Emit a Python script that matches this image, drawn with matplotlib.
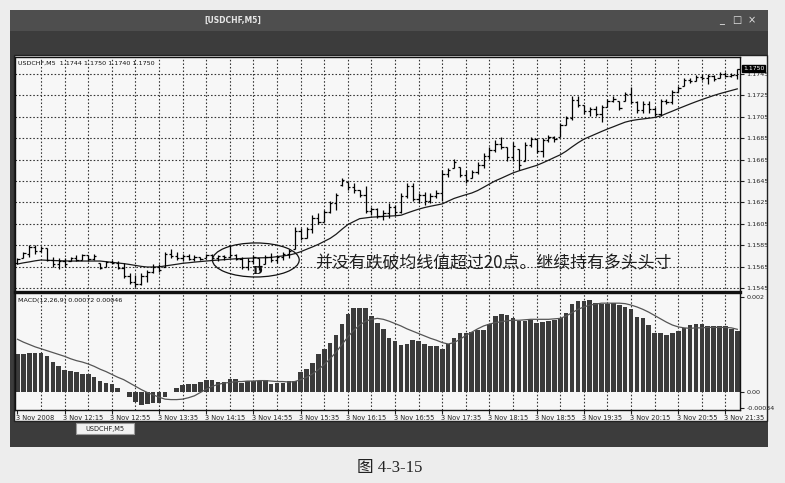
import matplotlib
matplotlib.use('Agg')
import matplotlib.pyplot as plt
from matplotlib.patches import Rectangle, Ellipse
import matplotlib.transforms as mtransforms

W, H, DPI = 785, 483, 100

# ---------------- data ----------------
highs = [1.1573, 1.1579, 1.1585, 1.1585, 1.1584, 1.1582, 1.1574, 1.1573, 1.1573, 1.1574,
         1.1576, 1.1577, 1.1576, 1.1577, 1.1568, 1.1570, 1.1571, 1.1570, 1.1568, 1.1559,
         1.1557, 1.1559, 1.1562, 1.1567, 1.1567, 1.1579, 1.1581, 1.1579, 1.1577, 1.1577,
         1.1576, 1.1574, 1.1577, 1.1577, 1.1576, 1.1576, 1.1585, 1.1577, 1.1574, 1.1573,
         1.1576, 1.1573, 1.1576, 1.1578, 1.1576, 1.1579, 1.1581, 1.1602, 1.1601, 1.1602,
         1.1613, 1.1615, 1.1618, 1.1626, 1.1634, 1.1648, 1.1644, 1.1643, 1.1637, 1.1640,
         1.1621, 1.1620, 1.1618, 1.1624, 1.1623, 1.1634, 1.1643, 1.1643, 1.1634, 1.1635,
         1.1634, 1.1637, 1.1655, 1.1657, 1.1666, 1.1658, 1.1655, 1.1655, 1.1663, 1.1671,
         1.1677, 1.1683, 1.1686, 1.1677, 1.1681, 1.1675, 1.1681, 1.1686, 1.1684, 1.1685,
         1.1688, 1.1687, 1.1699, 1.1706, 1.1724, 1.1724, 1.1716, 1.1714, 1.1715, 1.1716,
         1.1722, 1.1724, 1.1720, 1.1728, 1.1733, 1.1720, 1.1720, 1.1720, 1.1714, 1.1722,
         1.1722, 1.1730, 1.1734, 1.1741, 1.1741, 1.1744, 1.1745, 1.1745, 1.1744, 1.1747,
         1.1747, 1.1746, 1.1750]
lows = [1.1567, 1.1573, 1.1574, 1.1577, 1.1579, 1.1570, 1.1565, 1.1563, 1.1565, 1.1570,
        1.1570, 1.1571, 1.1570, 1.1571, 1.1563, 1.1565, 1.1567, 1.1563, 1.1554, 1.1549,
        1.1546, 1.1548, 1.1551, 1.1559, 1.1560, 1.1565, 1.1573, 1.1571, 1.1570, 1.1571,
        1.1570, 1.1571, 1.1573, 1.1571, 1.1570, 1.1571, 1.1573, 1.1571, 1.1563, 1.1562,
        1.1567, 1.1562, 1.1567, 1.1569, 1.1568, 1.1571, 1.1573, 1.1581, 1.1590, 1.1592,
        1.1596, 1.1605, 1.1607, 1.1615, 1.1618, 1.1640, 1.1637, 1.1634, 1.1630, 1.1615,
        1.1613, 1.1610, 1.1609, 1.1610, 1.1613, 1.1615, 1.1629, 1.1626, 1.1624, 1.1623,
        1.1624, 1.1629, 1.1626, 1.1649, 1.1657, 1.1649, 1.1643, 1.1648, 1.1652, 1.1657,
        1.1666, 1.1672, 1.1675, 1.1664, 1.1664, 1.1655, 1.1664, 1.1677, 1.1671, 1.1667,
        1.1681, 1.1681, 1.1686, 1.1697, 1.1702, 1.1714, 1.1708, 1.1706, 1.1706, 1.1700,
        1.1714, 1.1719, 1.1711, 1.1720, 1.1717, 1.1709, 1.1709, 1.1709, 1.1706, 1.1706,
        1.1717, 1.1717, 1.1728, 1.1734, 1.1737, 1.1738, 1.1739, 1.1736, 1.1738, 1.1741,
        1.1742, 1.1742, 1.1740]
opens = [1.1568, 1.1573, 1.1577, 1.1583, 1.1580, 1.1582, 1.1571, 1.1567, 1.1570, 1.1570,
         1.1573, 1.1571, 1.1576, 1.1572, 1.1568, 1.1565, 1.1569, 1.1568, 1.1564, 1.1556,
         1.1551, 1.1549, 1.1556, 1.1560, 1.1565, 1.1565, 1.1577, 1.1575, 1.1573, 1.1575,
         1.1572, 1.1574, 1.1573, 1.1576, 1.1573, 1.1575, 1.1574, 1.1576, 1.1572, 1.1565,
         1.1570, 1.1573, 1.1567, 1.1574, 1.1571, 1.1574, 1.1577, 1.1581, 1.1598, 1.1592,
         1.1600, 1.1610, 1.1607, 1.1616, 1.1624, 1.1641, 1.1644, 1.1639, 1.1637, 1.1632,
         1.1617, 1.1619, 1.1612, 1.1615, 1.1621, 1.1616, 1.1631, 1.1640, 1.1628, 1.1632,
         1.1626, 1.1631, 1.1634, 1.1652, 1.1657, 1.1658, 1.1651, 1.1648, 1.1653, 1.1660,
         1.1668, 1.1674, 1.1680, 1.1677, 1.1667, 1.1675, 1.1664, 1.1679, 1.1684, 1.1673,
         1.1683, 1.1686, 1.1686, 1.1697, 1.1704, 1.1721, 1.1716, 1.1710, 1.1712, 1.1708,
         1.1714, 1.1720, 1.1720, 1.1720, 1.1726, 1.1719, 1.1711, 1.1717, 1.1712, 1.1708,
         1.1720, 1.1719, 1.1728, 1.1734, 1.1739, 1.1738, 1.1742, 1.1741, 1.1743, 1.1741,
         1.1745, 1.1743, 1.1744]
closes = [1.1572, 1.1578, 1.1583, 1.1580, 1.1582, 1.1571, 1.1567, 1.1570, 1.1567, 1.1573,
          1.1571, 1.1576, 1.1572, 1.1575, 1.1564, 1.1569, 1.1568, 1.1564, 1.1556, 1.1551,
          1.1549, 1.1556, 1.1560, 1.1565, 1.1562, 1.1577, 1.1575, 1.1573, 1.1575, 1.1572,
          1.1574, 1.1572, 1.1576, 1.1573, 1.1575, 1.1574, 1.1576, 1.1572, 1.1565, 1.1570,
          1.1574, 1.1566, 1.1574, 1.1571, 1.1574, 1.1577, 1.1580, 1.1598, 1.1592, 1.1600,
          1.1610, 1.1607, 1.1616, 1.1624, 1.1632, 1.1646, 1.1639, 1.1637, 1.1632, 1.1617,
          1.1619, 1.1612, 1.1615, 1.1621, 1.1616, 1.1631, 1.1640, 1.1628, 1.1632, 1.1626,
          1.1631, 1.1634, 1.1652, 1.1655, 1.1663, 1.1651, 1.1646, 1.1653, 1.1660, 1.1668,
          1.1674, 1.1680, 1.1677, 1.1667, 1.1678, 1.1660, 1.1679, 1.1684, 1.1673, 1.1683,
          1.1686, 1.1684, 1.1697, 1.1704, 1.1721, 1.1716, 1.1710, 1.1712, 1.1708, 1.1714,
          1.1720, 1.1722, 1.1713, 1.1726, 1.1719, 1.1711, 1.1717, 1.1712, 1.1708, 1.1720,
          1.1719, 1.1728, 1.1732, 1.1739, 1.1738, 1.1742, 1.1741, 1.1743, 1.1740, 1.1745,
          1.1743, 1.1744, 1.1750]
ma = [1.15674, 1.15685, 1.15694, 1.15704, 1.15712, 1.15709, 1.15707, 1.15705, 1.15703, 1.15702,
      1.15702, 1.15702, 1.15702, 1.15702, 1.15702, 1.15696, 1.15690, 1.15684, 1.15678, 1.15670,
      1.15661, 1.15652, 1.15646, 1.15646, 1.15648, 1.15656, 1.15664, 1.15672, 1.15681, 1.15686,
      1.15692, 1.15697, 1.15702, 1.15707, 1.15711, 1.15715, 1.15719, 1.15723, 1.15726, 1.15728,
      1.15730, 1.15732, 1.15733, 1.15736, 1.15743, 1.15750, 1.15757, 1.15771, 1.15789, 1.15812,
      1.15834, 1.15858, 1.15886, 1.15914, 1.15952, 1.15999, 1.16043, 1.16071, 1.16098, 1.16105,
      1.16112, 1.16115, 1.16119, 1.16122, 1.16125, 1.16130, 1.16150, 1.16169, 1.16187, 1.16202,
      1.16214, 1.16225, 1.16236, 1.16262, 1.16287, 1.16305, 1.16322, 1.16338, 1.16361, 1.16391,
      1.16422, 1.16452, 1.16476, 1.16501, 1.16526, 1.16545, 1.16562, 1.16579, 1.16596, 1.16619,
      1.16644, 1.16670, 1.16695, 1.16729, 1.16769, 1.16807, 1.16841, 1.16865, 1.16889, 1.16913,
      1.16936, 1.16957, 1.16979, 1.17000, 1.17014, 1.17023, 1.17030, 1.17037, 1.17044, 1.17058,
      1.17081, 1.17103, 1.17126, 1.17148, 1.17170, 1.17191, 1.17211, 1.17230, 1.17249, 1.17266,
      1.17281, 1.17296, 1.17311]
macd = [0.00081, 0.00081, 0.00082, 0.00083, 0.00083, 0.00075, 0.00063, 0.00054, 0.00047, 0.00044,
        0.00043, 0.00038, 0.00038, 0.00031, 0.00024, 0.00019, 0.00017, 0.00009, 0.00001, -0.00011,
        -0.00022, -0.00027, -0.00025, -0.00024, -0.00024, -0.00011, -0.00001, 0.00008, 0.00015, 0.00016,
        0.00017, 0.00020, 0.00025, 0.00025, 0.00020, 0.00020, 0.00028, 0.00027, 0.00019, 0.00024,
        0.00024, 0.00024, 0.00025, 0.00017, 0.00019, 0.00019, 0.00024, 0.00024, 0.00043, 0.00049,
        0.00062, 0.00079, 0.00090, 0.00104, 0.00119, 0.00144, 0.00164, 0.00176, 0.00176, 0.00176,
        0.00160, 0.00146, 0.00132, 0.00113, 0.00107, 0.00098, 0.00100, 0.00109, 0.00107, 0.00102,
        0.00097, 0.00097, 0.00091, 0.00100, 0.00113, 0.00125, 0.00125, 0.00127, 0.00130, 0.00130,
        0.00144, 0.00161, 0.00165, 0.00162, 0.00155, 0.00149, 0.00149, 0.00151, 0.00146, 0.00147,
        0.00149, 0.00151, 0.00156, 0.00167, 0.00185, 0.00192, 0.00192, 0.00194, 0.00187, 0.00186,
        0.00186, 0.00187, 0.00184, 0.00179, 0.00174, 0.00158, 0.00155, 0.00140, 0.00125, 0.00125,
        0.00120, 0.00125, 0.00128, 0.00135, 0.00140, 0.00144, 0.00144, 0.00139, 0.00139, 0.00139,
        0.00139, 0.00133, 0.00128]
signal = [0.00111, 0.00105, 0.00100, 0.00095, 0.00091, 0.00087, 0.00083, 0.00079, 0.00075, 0.00070,
          0.00066, 0.00063, 0.00059, 0.00054, 0.00048, 0.00043, 0.00037, 0.00031, 0.00026, 0.00019,
          0.00012, 0.00005, -0.00001, -0.00006, -0.00011, -0.00015, -0.00016, -0.00016, -0.00015, -0.00012,
          -0.00008, -0.00001, 0.00006, 0.00012, 0.00016, 0.00019, 0.00020, 0.00022, 0.00022, 0.00023,
          0.00023, 0.00024, 0.00024, 0.00023, 0.00022, 0.00022, 0.00021, 0.00022, 0.00026, 0.00031,
          0.00038, 0.00047, 0.00058, 0.00070, 0.00084, 0.00100, 0.00116, 0.00130, 0.00141, 0.00149,
          0.00153, 0.00155, 0.00153, 0.00149, 0.00144, 0.00139, 0.00133, 0.00128, 0.00123, 0.00118,
          0.00113, 0.00109, 0.00104, 0.00101, 0.00104, 0.00111, 0.00119, 0.00126, 0.00133, 0.00139,
          0.00143, 0.00146, 0.00148, 0.00150, 0.00151, 0.00151, 0.00152, 0.00153, 0.00153, 0.00153,
          0.00153, 0.00154, 0.00155, 0.00160, 0.00167, 0.00174, 0.00179, 0.00183, 0.00185, 0.00187,
          0.00187, 0.00187, 0.00187, 0.00186, 0.00183, 0.00179, 0.00174, 0.00168, 0.00161, 0.00154,
          0.00147, 0.00141, 0.00137, 0.00135, 0.00134, 0.00135, 0.00135, 0.00136, 0.00136, 0.00136,
          0.00136, 0.00135, 0.00132]
time_labels = ["3 Nov 2008", "3 Nov 12:15", "3 Nov 12:55", "3 Nov 13:35", "3 Nov 14:15",
               "3 Nov 14:55", "3 Nov 15:35", "3 Nov 16:15", "3 Nov 16:55", "3 Nov 17:35",
               "3 Nov 18:15", "3 Nov 18:55", "3 Nov 19:35", "3 Nov 20:15", "3 Nov 20:55",
               "3 Nov 21:35"]
price_ticks = [1.1545, 1.1565, 1.1585, 1.1605, 1.1625, 1.1645, 1.1665, 1.1685, 1.1705, 1.1725, 1.1745]
macd_ticks = [0.002, 0.0, -0.00034]
macd_tick_labels = ["0.002", "0.00", "-0.00034"]
price_header = "USDCHF,M5  1.1744 1.1750 1.1740 1.1750"
macd_header = "MACD(12,26,9) 0.00072 0.00046"
note_text = "并没有跌破均线值超过20点。继续持有多头头寸"
caption = "图 4-3-15"

# ---------------- figure ----------------
fig = plt.figure(figsize=(W / DPI, H / DPI), dpi=DPI)
fig.patch.set_facecolor('#ededed')

bg = fig.add_axes([0, 0, 1, 1])
bg.set_xlim(0, W)
bg.set_ylim(H, 0)
bg.axis('off')


def rect(x0, y0, x1, y1, **kw):
    bg.add_patch(Rectangle((x0, y0), x1 - x0, y1 - y0, **kw))


rect(10, 10, 768, 447, facecolor='#3c3c3c', edgecolor='none')
rect(10, 10, 768, 31, facecolor='#4e4e4e', edgecolor='none')
rect(14, 55, 767, 421, facecolor='#f4f4f4', edgecolor='#222222', lw=1)
bg.text(233, 20, "[USDCHF,M5]", color='#e6e6e6', fontsize=5.5, fontweight='bold',
        ha='center', va='center')
for bx, sym in [(722, "_"), (737, "□"), (752, "×")]:
    bg.text(bx, 20, sym, color='#e6e6e6', fontsize=7, ha='center', va='center')
rect(76, 423, 134, 434, facecolor='#f2f2f2', edgecolor='#999999', lw=0.8)
bg.text(105, 428.5, "USDCHF,M5", fontsize=4.8, ha='center', va='center', color='#222')
bg.text(390, 468, caption, fontsize=12, ha='center', va='center', color='#222',
        family=['Liberation Serif', 'Noto Sans CJK SC'])


def pax(x0, y0, x1, y1):
    return fig.add_axes([x0 / W, 1 - y1 / H, (x1 - x0) / W, (y1 - y0) / H])


axp = pax(15, 57, 740, 292)
axm = pax(15, 293, 740, 410)
n = len(closes)
xs = list(range(n))
xlim = (-0.42, 122.46)

grid_kw = dict(color='#333333', lw=0.8, ls=(0, (1.4, 1.8)), zorder=0.5)
for ax in (axp, axm):
    ax.set_facecolor('#f7f7f7')
    ax.set_xlim(*xlim)
    for s in ax.spines.values():
        s.set_color('#111111')
        s.set_linewidth(1)
    for gx in range(4, 121, 4):
        ax.axvline(gx, **grid_kw)

# ---- price panel ----
axp.set_ylim(1.154126, 1.176089)
axp.spines['bottom'].set_linewidth(2.4)
for p in price_ticks:
    axp.axhline(p, **grid_kw)
axp.vlines(xs, lows, highs, color='black', lw=0.9, zorder=3)
axp.hlines(opens, [x - 0.38 for x in xs], xs, color='black', lw=0.9, zorder=3)
axp.hlines(closes, xs, [x + 0.38 for x in xs], color='black', lw=0.9, zorder=3)
axp.plot(xs, ma, color='#1a1a1a', lw=0.9, zorder=2.5)
axp.set_xticks([])
axp.yaxis.set_ticks_position('right')
axp.set_yticks(price_ticks)
axp.set_yticklabels([f"{p:.4f}" for p in price_ticks])
axp.tick_params(axis='y', length=3, width=0.8, labelsize=4.6, pad=1.5, colors='#222')
axp.text(0.004, 0.975, price_header, transform=axp.transAxes, fontsize=4.6,
         ha='left', va='center', color='#111')
tb = mtransforms.blended_transform_factory(axp.transAxes, axp.transData)
axp.text(1.004, closes[-1], f"{closes[-1]:.4f}", transform=tb, fontsize=4.4, color='white',
         ha='left', va='center', bbox=dict(boxstyle='square,pad=0.15', fc='black', ec='black'))

axp.add_patch(Ellipse((40.4, 1.15712), 14.7, 0.00318, fill=False, ec='#111', lw=0.9, zorder=4))
axp.text(40.6, 1.15618, "D", fontsize=8, fontweight='bold', family='DejaVu Serif',
         ha='center', va='center', color='#111', zorder=5)
axp.text(50.4, 1.15684, note_text, fontsize=12.2, ha='left', va='center', color='#1e1e1e',
         family=['Noto Sans CJK SC', 'DejaVu Sans'], zorder=5)

# ---- MACD panel ----
axm.set_ylim(-0.000379, 0.002084)
axm.bar(xs, macd, width=0.78, color='#3b3b3b', zorder=2)
axm.plot(xs, signal, color='#555555', lw=0.9, zorder=3)
axm.yaxis.set_ticks_position('right')
axm.set_yticks(macd_ticks)
axm.set_yticklabels(macd_tick_labels)
axm.tick_params(axis='y', length=3, width=0.8, labelsize=4.6, pad=1.5, colors='#222')
label_pos = list(range(0, 121, 8))
axm.set_xticks(label_pos)
axm.set_xticklabels([])
axm.tick_params(axis='x', length=3, width=0.8, direction='out', colors='#222')
axm.text(0.004, 0.94, macd_header, transform=axm.transAxes, fontsize=4.6,
         ha='left', va='center', color='#111')
tx = mtransforms.blended_transform_factory(axm.transData, axm.transAxes)
for pos, lbl in zip(label_pos, time_labels):
    axm.text(pos - 0.25, -0.065, lbl, transform=tx, fontsize=4.8, ha='left', va='center',
             color='#222', clip_on=False)

fig.savefig('out.png', dpi=DPI, facecolor=fig.get_facecolor())
